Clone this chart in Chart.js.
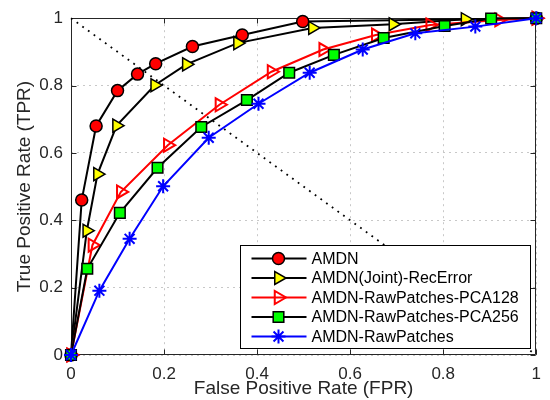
<!DOCTYPE html>
<html><head><meta charset="utf-8">
<script src="https://cdn.jsdelivr.net/npm/chart.js@4.4.1/dist/chart.umd.min.js"></script>
<style>html,body{margin:0;padding:0;background:#fff;}canvas{display:block;}</style>
</head><body>
<canvas id="c" width="550" height="400"></canvas>
<script>
const seriesNames = ['AMDN', 'AMDN(Joint)-RecError', 'AMDN-RawPatches-PCA128', 'AMDN-RawPatches-PCA256', 'AMDN-RawPatches'];
const amdnFPR   = [0, 0.023, 0.054, 0.100, 0.143, 0.182, 0.261, 0.368, 0.498, 1];
const amdnTPR   = [0, 0.460, 0.680, 0.785, 0.834, 0.865, 0.916, 0.950, 0.990, 1];
const jointFPR  = [0, 0.034, 0.057, 0.098, 0.180, 0.248, 0.358, 0.519, 0.692, 0.847, 1];
const jointTPR  = [0, 0.369, 0.537, 0.681, 0.801, 0.863, 0.926, 0.971, 0.982, 0.997, 1];
const pca128FPR = [0, 0.046, 0.107, 0.208, 0.319, 0.431, 0.542, 0.655, 0.772, 0.920, 1];
const pca128TPR = [0, 0.326, 0.484, 0.623, 0.743, 0.841, 0.907, 0.950, 0.980, 0.995, 1];
const pca256FPR = [0, 0.035, 0.105, 0.186, 0.280, 0.378, 0.469, 0.565, 0.672, 0.803, 0.903, 1];
const pca256TPR = [0, 0.256, 0.422, 0.556, 0.677, 0.757, 0.838, 0.891, 0.941, 0.977, 0.999, 1];
const rawFPR    = [0, 0.061, 0.126, 0.198, 0.296, 0.403, 0.513, 0.627, 0.740, 0.869, 1];
const rawTPR    = [0, 0.191, 0.345, 0.501, 0.645, 0.746, 0.838, 0.907, 0.955, 0.975, 1];
const chanceFPR = [0, 1];
const chanceTPR = [1, 0];
const tickValues = [0, 0.2, 0.4, 0.6, 0.8, 1];
const tickLabels = ['0', '0.2', '0.4', '0.6', '0.8', '1'];
const xTitle = 'False Positive Rate (FPR)';
const yTitle = 'True Positive Rate (TPR)';

const FONT = '"Liberation Sans", Arial, Helvetica, sans-serif';
const AXIS_COLOR = '#262626';
Chart.defaults.font.family = FONT;

function pts(xs, ys) { return xs.map((v, i) => ({x: v, y: ys[i]})); }

function drawMarker(ctx, style, x, y, r, rotDeg, fill, stroke, lw) {
  ctx.save();
  ctx.beginPath();
  ctx.lineWidth = lw; ctx.strokeStyle = stroke; ctx.fillStyle = fill;
  let rad = (rotDeg || 0) * Math.PI / 180;
  if (style === 'circle') {
    ctx.arc(x, y, r, 0, Math.PI * 2);
    ctx.fill(); ctx.stroke();
  } else if (style === 'triangle') {
    for (let k = 0; k < 3; k++) {
      const px = x + Math.sin(rad) * r, py = y - Math.cos(rad) * r;
      if (k === 0) ctx.moveTo(px, py); else ctx.lineTo(px, py);
      rad += 2 * Math.PI / 3;
    }
    ctx.closePath(); ctx.fill(); ctx.stroke();
  } else if (style === 'rect') {
    const s = Math.SQRT1_2 * r;
    ctx.rect(x - s, y - s, 2 * s, 2 * s);
    ctx.fill(); ctx.stroke();
  } else if (style === 'star') {
    for (let k = 0; k < 4; k++) {
      const a = k * Math.PI / 4;
      ctx.moveTo(x - Math.cos(a) * r, y - Math.sin(a) * r);
      ctx.lineTo(x + Math.cos(a) * r, y + Math.sin(a) * r);
    }
    ctx.stroke();
  }
  ctx.restore();
}

const framePlugin = {
  id: 'frame',
  beforeDatasetsDraw(chart) {
    const {ctx, chartArea: a, scales: {x, y}} = chart;
    ctx.save();
    ctx.strokeStyle = AXIS_COLOR;
    ctx.lineWidth = 1;
    const L = Math.round(a.left) + 0.5, R = Math.round(a.right) - 0.5;
    const T = Math.round(a.top) + 0.5, B = Math.round(a.bottom) - 0.5;
    ctx.beginPath();
    ctx.rect(L, T, R - L, B - T);
    const tl = 5;
    tickValues.forEach(v => {
      const px = Math.round(x.getPixelForValue(v)) + 0.5;
      ctx.moveTo(px, B); ctx.lineTo(px, B - tl);
      ctx.moveTo(px, T); ctx.lineTo(px, T + tl);
      const py = Math.round(y.getPixelForValue(v)) + 0.5;
      ctx.moveTo(L, py); ctx.lineTo(L + tl, py);
      ctx.moveTo(R, py); ctx.lineTo(R - tl, py);
    });
    ctx.stroke();
    ctx.restore();
  }
};

const legendPlugin = {
  id: 'boxLegend',
  afterDatasetsDraw(chart) {
    const {ctx, chartArea: a} = chart;
    const items = chart.data.datasets.filter(d => d.inLegend);
    const w = 290, h = 103, rowH = 19.5;
    const x0 = Math.round(a.right - 6 - w) + 0.5, y0 = Math.round(a.bottom - 7 - h) + 0.5;
    ctx.save();
    ctx.fillStyle = '#ffffff';
    ctx.fillRect(x0, y0, w, h);
    ctx.strokeStyle = '#000000';
    ctx.lineWidth = 1;
    ctx.strokeRect(x0, y0, w, h);
    ctx.font = '16px ' + FONT;
    ctx.textBaseline = 'middle';
    ctx.textAlign = 'left';
    items.forEach((d, i) => {
      const cy = y0 + 13 + i * rowH;
      ctx.beginPath();
      ctx.strokeStyle = d.borderColor;
      ctx.lineWidth = d.borderWidth;
      ctx.moveTo(x0 + 11, cy); ctx.lineTo(x0 + 66, cy);
      ctx.stroke();
      drawMarker(ctx, d.pointStyle, x0 + 38, cy, d.pointRadius, d.pointRotation,
                 d.pointBackgroundColor, d.pointBorderColor, d.pointBorderWidth);
      ctx.fillStyle = '#000000';
      ctx.fillText(d.label, x0 + 71, cy + 1);
    });
    ctx.restore();
  }
};

function tickCfg() {
  return {
    autoSkip: false, maxRotation: 0, color: AXIS_COLOR,
    font: {size: 17},
    callback: (v, i) => tickLabels[i]
  };
}

const chart = new Chart(document.getElementById('c'), {
  type: 'scatter',
  data: {
    datasets: [
      {label: seriesNames[0], data: pts(amdnFPR, amdnTPR), showLine: true, inLegend: true, order: 5,
       borderColor: '#000000', borderWidth: 2, pointStyle: 'circle', pointRadius: 6, pointRotation: 0,
       pointBackgroundColor: '#ff0000', pointBorderColor: '#000000', pointBorderWidth: 1.5, clip: false},
      {label: seriesNames[1], data: pts(jointFPR, jointTPR), showLine: true, inLegend: true, order: 4,
       borderColor: '#000000', borderWidth: 2, pointStyle: 'triangle', pointRadius: 7.5, pointRotation: 90,
       pointBackgroundColor: '#ffff00', pointBorderColor: '#000000', pointBorderWidth: 1.5, clip: false},
      {label: seriesNames[2], data: pts(pca128FPR, pca128TPR), showLine: true, inLegend: true, order: 3,
       borderColor: '#ff0000', borderWidth: 2, pointStyle: 'triangle', pointRadius: 7.5, pointRotation: 90,
       pointBackgroundColor: 'rgba(0,0,0,0)', pointBorderColor: '#ff0000', pointBorderWidth: 2, clip: false},
      {label: seriesNames[3], data: pts(pca256FPR, pca256TPR), showLine: true, inLegend: true, order: 2,
       borderColor: '#000000', borderWidth: 2, pointStyle: 'rect', pointRadius: 7.5, pointRotation: 0,
       pointBackgroundColor: '#00ff00', pointBorderColor: '#000000', pointBorderWidth: 1.5, clip: false},
      {label: seriesNames[4], data: pts(rawFPR, rawTPR), showLine: true, inLegend: true, order: 1,
       borderColor: '#0000ff', borderWidth: 2, pointStyle: 'star', pointRadius: 7, pointRotation: 0,
       pointBackgroundColor: '#0000ff', pointBorderColor: '#0000ff', pointBorderWidth: 2, clip: false},
      {label: 'chance', data: pts(chanceFPR, chanceTPR), showLine: true, inLegend: false, order: 10,
       borderColor: '#000000', borderWidth: 1.8, borderDash: [1.8, 5.2], pointRadius: 0, clip: false}
    ]
  },
  options: {
    responsive: false, animation: false, devicePixelRatio: 1,
    layout: {padding: {left: 0, right: 12, top: 14, bottom: 0}},
    plugins: {legend: {display: false}, tooltip: {enabled: false}},
    scales: {
      x: {
        type: 'linear', min: 0, max: 1,
        afterBuildTicks: s => { s.ticks = tickValues.map(v => ({value: v})); },
        afterFit: s => { s.height = 45; },
        ticks: Object.assign(tickCfg(), {padding: 9}),
        grid: {color: '#c8c8c8', lineWidth: 1, drawTicks: false},
        border: {display: false, dash: [2, 4]},
        title: {display: true, text: xTitle, color: AXIS_COLOR, font: {size: 19}, padding: {top: 0, bottom: 0}}
      },
      y: {
        type: 'linear', min: 0, max: 1,
        afterBuildTicks: s => { s.ticks = tickValues.map(v => ({value: v})); },
        afterFit: s => { s.width = 71; },
        ticks: Object.assign(tickCfg(), {padding: 8}),
        grid: {color: '#c8c8c8', lineWidth: 1, drawTicks: false},
        border: {display: false, dash: [2, 4]},
        title: {display: true, text: yTitle, color: AXIS_COLOR, font: {size: 19}, padding: {top: 13, bottom: 0}}
      }
    }
  },
  plugins: [framePlugin, legendPlugin]
});
</script>
</body></html>
